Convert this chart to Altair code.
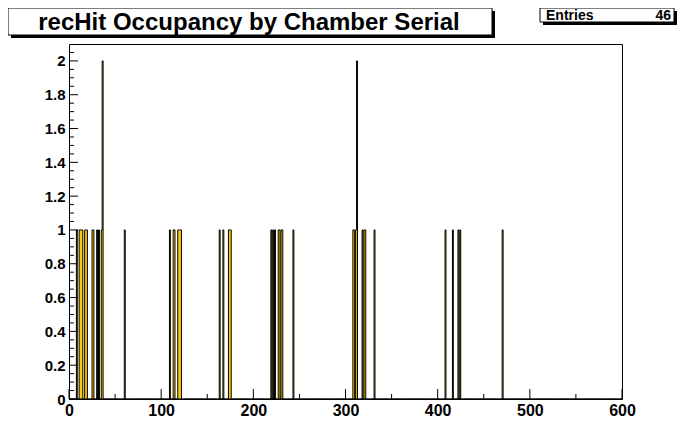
import altair as alt
import pandas as pd

title_text = "recHit Occupancy by Chamber Serial"
stats_label = "Entries"
stats_value = "46"

# non-empty bins (lower edge) and their contents
bins = [8, 11, 12, 13, 14, 17, 18, 19, 25, 26, 30, 32, 35, 36,
        60,
        109, 113, 114, 118, 119, 120, 121,
        163, 167, 173, 174, 175,
        219, 221, 223, 227, 228, 230, 231,
        243,
        308, 309, 311, 312, 318, 320, 321,
        331,
        408, 416, 422, 424,
        470]
counts = [1, 1, 1, 1, 1, 1, 1, 1, 1, 1, 1, 1, 1, 2,
          1,
          1, 1, 1, 1, 1, 1, 1,
          1, 1, 1, 1, 1,
          1, 1, 1, 1, 1, 1, 1,
          1,
          1, 1, 1, 2, 1, 1, 1,
          1,
          1, 1, 1, 1,
          1]

x_min, x_max = 0, 600
y_min, y_max = 0, 2.1
x_major = [0, 100, 200, 300, 400, 500, 600]
x_minor = [50, 150, 250, 350, 450, 550]
y_major = [0, 0.2, 0.4, 0.6, 0.8, 1, 1.2, 1.4, 1.6, 1.8, 2]
y_minor = [0.05, 0.1, 0.15, 0.25, 0.3, 0.35, 0.45, 0.5, 0.55, 0.65, 0.7, 0.75,
           0.85, 0.9, 0.95, 1.05, 1.1, 1.15, 1.25, 1.3, 1.35, 1.45, 1.5, 1.55,
           1.65, 1.7, 1.75, 1.85, 1.9, 1.95, 2.05]

FILL = "#ffcc00"
FONT = "Liberation Sans"

content = dict(zip(bins, counts))
hist = pd.DataFrame({"x": list(range(x_min, x_max + 1)),
                     "n": [content.get(i, 0) for i in range(x_min, x_max + 1)]})

xs = alt.Scale(domain=[x_min, x_max], nice=False, zero=False)
ys = alt.Scale(domain=[y_min, y_max], nice=False, zero=False)

x_axis = alt.Axis(values=x_major, format="d", title=None, grid=False, domain=False,
                  ticks=False, labelFont=FONT, labelFontSize=16, labelFontWeight="bold",
                  labelColor="black", labelPadding=3, labelFlush=False, labelOverlap=False)
y_axis = alt.Axis(values=y_major, title=None, grid=False, domain=False,
                  ticks=False, labelFont=FONT, labelFontSize=15, labelFontWeight="bold",
                  labelColor="black", labelPadding=4, labelOverlap=False,
                  labelExpr="datum.value == 0 ? '0' : format(datum.value, '.1~f')")

area = alt.Chart(hist).mark_area(
    interpolate="step-after", fill=FILL, stroke="black", strokeWidth=1
).encode(
    x=alt.X("x:Q", scale=xs, axis=x_axis),
    y=alt.Y("n:Q", scale=ys, axis=y_axis),
)

def yticks(vals, length):
    return alt.Chart(pd.DataFrame({"v": vals})).mark_rule(color="black", strokeWidth=1).encode(
        y=alt.Y("v:Q", scale=ys, axis=y_axis), x=alt.value(0), x2=alt.value(length))

def xticks(vals, length):
    return alt.Chart(pd.DataFrame({"v": vals})).mark_rule(color="black", strokeWidth=1).encode(
        x=alt.X("v:Q", scale=xs, axis=x_axis), y=alt.value(355), y2=alt.value(355 - length))

one = pd.DataFrame({"k": [0]})

def box(x1, x2, y1, y2, fill, stroke=None):
    kw = dict(fill=fill)
    if stroke:
        kw.update(stroke=stroke, strokeWidth=1)
    return alt.Chart(one).mark_rect(**kw).encode(
        x=alt.value(x1), x2=alt.value(x2), y=alt.value(y1), y2=alt.value(y2))

title_shadow = box(-58, 426, -33, -6, "black")
title_box = box(-61, 423, -36, -9, "white", "black")
title = alt.Chart(one).mark_text(
    text=title_text, font=FONT, fontSize=24, fontWeight="bold", color="black",
    align="center", baseline="alphabetic"
).encode(x=alt.value(180), y=alt.value(-14))

stats_shadow = box(474, 608, -33, -19, "black")
stats_box = box(471, 605, -36, -22, "white", "black")
stats_l = alt.Chart(one).mark_text(
    text=stats_label, font=FONT, fontSize=14, fontWeight="bold", color="black",
    align="left", baseline="alphabetic"
).encode(x=alt.value(477), y=alt.value(-24))
stats_r = alt.Chart(one).mark_text(
    text=stats_value, font=FONT, fontSize=14, fontWeight="bold", color="black",
    align="right", baseline="alphabetic"
).encode(x=alt.value(602), y=alt.value(-24))

chart = alt.layer(
    area,
    yticks(y_major, 9), yticks(y_minor, 5),
    xticks(x_major, 10), xticks(x_minor, 5),
    title_shadow, title_box, title,
    stats_shadow, stats_box, stats_l, stats_r,
).properties(
    width=553, height=355,
    autosize=alt.AutoSizeParams(type="none"),
    padding={"left": 61, "top": 36, "right": 62, "bottom": 37},
    background="white",
).configure_view(stroke="black", strokeWidth=1)

chart.save("out.html", embed_options={"renderer": "svg", "actions": False})
